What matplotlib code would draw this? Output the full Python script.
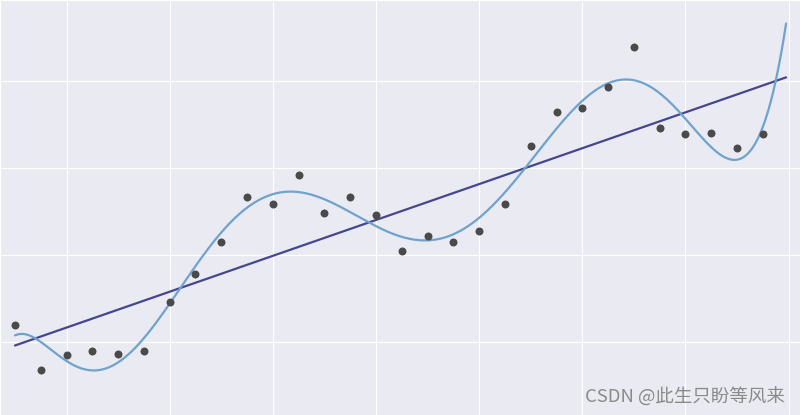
import numpy as np
import matplotlib.pyplot as plt
import seaborn as sns

x = np.arange(30)
y = [0.20, -0.32, -0.15, -0.11, -0.14, -0.11, 0.46, 0.78, 1.15, 1.66,
     1.59, 1.92, 1.48, 1.67, 1.46, 1.05, 1.22, 1.15, 1.28, 1.59,
     2.25, 2.64, 2.69, 2.93, 3.39, 2.46, 2.39, 2.40, 2.23, 2.39]
grid_x = [2, 6, 10, 14, 18, 22, 26, 30]
grid_y = [0, 1, 2, 3]
poly_degree = 8
watermark = "CSDN @此生只盼等风来"

sns.set_style("darkgrid")
plt.rcParams['font.family'] = ['Noto Sans CJK SC', 'DejaVu Sans']

fig = plt.figure(figsize=(8, 4.15), dpi=100)
ax = fig.add_axes([0, 0, 1, 1])

xs = np.linspace(0, 29.9, 300)

# linear fit
k, b = np.polyfit(x, y, 1)
ax.plot(xs, k * xs + b, color="#46468f", lw=1.6, zorder=2)

# polynomial fit
p = np.polyfit(x, y, poly_degree)
ax.plot(xs, np.polyval(p, xs), color="#6fa3cc", lw=1.6, zorder=2)

ax.scatter(x, y, s=33, color="#4a4a4a", zorder=3, linewidths=0)

ax.set_xticks(grid_x)
ax.set_yticks(grid_y)
ax.set_xticklabels([])
ax.set_yticklabels([])
ax.tick_params(length=0)
ax.set_xlim(-0.58, 30.44)
ax.set_ylim(-0.84, 3.93)

fig.text(0.981, 0.043, watermark, ha="right", va="center",
         fontsize=13.3, color="#8a8a8a")

plt.savefig("out.png")
